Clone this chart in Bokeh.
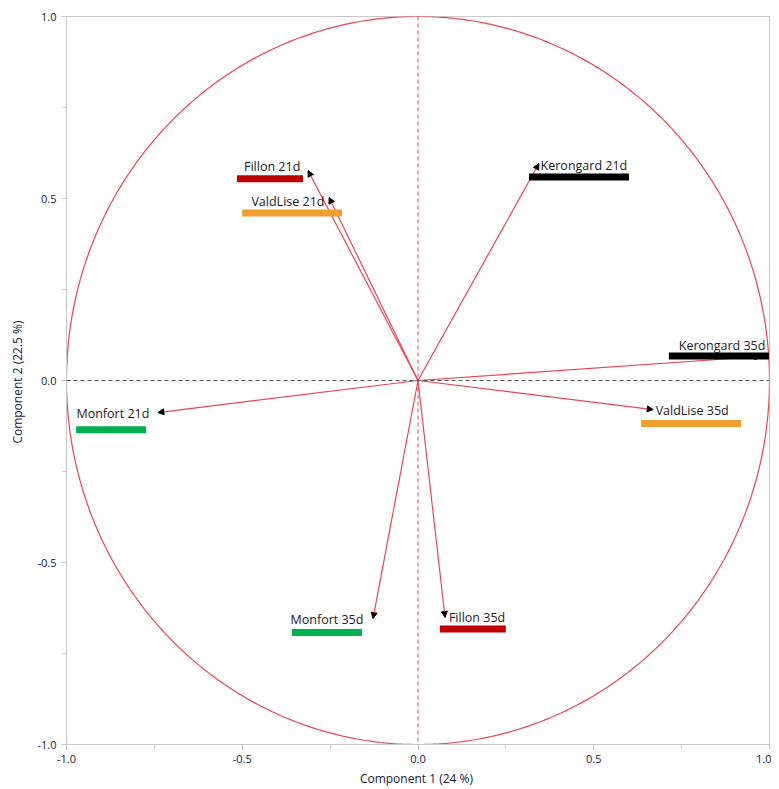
import numpy as np
from bokeh.plotting import figure
from bokeh.models import Range1d, FixedTicker, PrintfTickFormatter, Arrow, NormalHead, Span, ColumnDataSource
from bokeh.core.properties import value
from bokeh.embed import file_html
from bokeh.resources import INLINE

# ---- data ----
names = ["Fillon 21d", "ValdLise 21d", "Kerongard 21d", "Kerongard 35d",
         "ValdLise 35d", "Monfort 21d", "Monfort 35d", "Fillon 35d"]
comp1 = [-0.313, -0.253, 0.344, 0.975, 0.669, -0.740, -0.128, 0.077]
comp2 = [0.577, 0.503, 0.596, 0.066, -0.080, -0.088, -0.654, -0.651]
colors = ["#C00000", "#F0A030", "#000000", "#000000",
          "#F0A030", "#00B050", "#00B050", "#C00000"]
tick_vals = [-1.0, -0.5, 0.0, 0.5, 1.0]
minor_vals = [-0.75, -0.25, 0.25, 0.75]

# ---- label layout (positions in data units, bar widths in screen px) ----
text_x = [-0.415, -0.370, 0.472, 0.865, 0.780, -0.868, -0.259, 0.168]
text_y = [0.588, 0.492, 0.591, 0.096, -0.082, -0.091, -0.657, -0.651]
bar_x = [-0.421, -0.358, 0.458, 0.856, 0.777, -0.873, -0.259, 0.156]
bar_y = [0.554, 0.460, 0.559, 0.067, -0.118, -0.135, -0.692, -0.683]
bar_w = [66, 100, 100, 100, 100, 70, 70, 66]

FONT = "Open Sans"
RED = "#EE4455"

p = figure(output_backend="svg", toolbar_location=None,
           frame_width=703, frame_height=728,
           x_range=Range1d(-1.0, 1.0), y_range=Range1d(-1.0, 1.0),
           min_border_left=66, min_border_top=16, min_border_right=2, min_border_bottom=40)
p.background_fill_color = "white"
p.border_fill_color = "white"
p.outline_line_color = "#C8C8C8"
p.grid.visible = False

# unit circle
t = np.linspace(0, 2 * np.pi, 721)
p.line(np.cos(t), np.sin(t), line_color=RED, line_width=1.2)

# reference lines
p.add_layout(Span(location=0, dimension="height", line_color=RED, line_dash="4 3", line_width=1))
p.add_layout(Span(location=0, dimension="width", line_color="#555555", line_dash="4 3", line_width=1))

# arrows
for x, y in zip(comp1, comp2):
    p.add_layout(Arrow(end=NormalHead(size=6, fill_color="black", line_color="black"),
                       x_start=0, y_start=0, x_end=x, y_end=y,
                       line_color=RED, line_width=1.2, level="underlay"))

src = ColumnDataSource(dict(name=names, tx=text_x, ty=text_y, bx=bar_x, by=bar_y,
                            bw=bar_w, color=colors))
p.rect(x="bx", y="by", width="bw", height=7, width_units="screen", height_units="screen",
       fill_color="color", line_color=None, source=src)
p.text(x="tx", y="ty", text="name", source=src, text_align="center", text_baseline="middle",
       text_font=value(FONT), text_font_size="12.5px", text_color="#1a1a2a")

for ax in (p.xaxis[0], p.yaxis[0]):
    ax.ticker = FixedTicker(ticks=tick_vals, minor_ticks=minor_vals)
    ax.formatter = PrintfTickFormatter(format="%.1f")
    ax.axis_line_color = "#C8C8C8"
    ax.major_tick_line_color = "#C8C8C8"
    ax.minor_tick_line_color = "#C8C8C8"
    ax.major_tick_out = 5
    ax.major_tick_in = 0
    ax.minor_tick_out = 4
    ax.minor_tick_in = 0
    ax.major_label_text_font = FONT
    ax.major_label_text_font_size = "11px"
    ax.major_label_text_color = "#1a2040"
    ax.axis_label_text_font = FONT
    ax.axis_label_text_font_size = "12px"
    ax.axis_label_text_font_style = "normal"
    ax.axis_label_text_color = "#1a2040"

p.xaxis.axis_label = "Component 1  (24 %)"
p.yaxis.axis_label = "Component 2  (22.5 %)"
p.xaxis.axis_label_standoff = 4
p.yaxis.axis_label_standoff = 8

open("out.html", "w").write(file_html(p, INLINE))
